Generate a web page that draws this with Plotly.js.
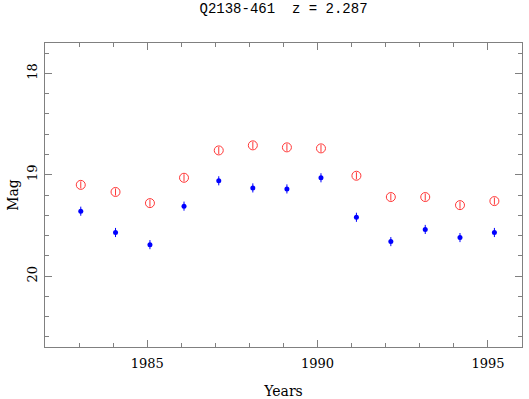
<!DOCTYPE html>
<html>
<head>
<meta charset="utf-8">
<script src="https://cdn.plot.ly/plotly-3.0.1.min.js"></script>
<style>
  html, body { margin: 0; padding: 0; background: #fff; }
  #lc { width: 529px; height: 399px; }
</style>
</head>
<body>
<div id="lc"></div>
<script>
// light curve of Q2138-461, two bands

var epochs = [1983.05, 1984.07, 1985.08, 1986.08, 1987.10, 1988.10, 1989.10,
              1990.10, 1991.14, 1992.15, 1993.16, 1994.18, 1995.19];
var magRed  = [19.10, 19.17, 19.28, 19.03, 18.76, 18.71, 18.73,
               18.74, 19.01, 19.22, 19.22, 19.30, 19.26];
var errRed  = [0.035, 0.035, 0.035, 0.035, 0.035, 0.035, 0.035,
               0.035, 0.035, 0.035, 0.035, 0.035, 0.035];
var magBlue = [19.36, 19.57, 19.69, 19.31, 19.06, 19.13, 19.14,
               19.03, 19.42, 19.66, 19.54, 19.62, 19.57];
var errBlue = [0.045, 0.045, 0.045, 0.045, 0.045, 0.045, 0.045,
               0.045, 0.045, 0.045, 0.045, 0.045, 0.045];

var red = 'rgb(255,55,55)';
var blue = 'rgb(0,0,255)';
var axcol = '#808080';

var traceRed = {
  x: epochs,
  y: magRed,
  mode: 'markers',
  type: 'scatter',
  marker: { symbol: 'circle-open', size: 9, color: red, line: { width: 1, color: red } },
  error_y: { type: 'data', array: errRed, visible: true, color: red, thickness: 1, width: 0 },
  hoverinfo: 'skip'
};
var traceBlue = {
  x: epochs,
  y: magBlue,
  mode: 'markers',
  type: 'scatter',
  marker: { symbol: 'circle', size: 5, color: blue },
  error_y: { type: 'data', array: errBlue, visible: true, color: blue, thickness: 1, width: 0 },
  hoverinfo: 'skip'
};

var layout = {
  width: 529,
  height: 399,
  margin: { l: 45, r: 7, t: 43, b: 52 },
  paper_bgcolor: '#fff',
  plot_bgcolor: '#fff',
  showlegend: false,
  title: {
    text: 'Q2138-461\u00a0\u00a0z\u00a0=\u00a02.287',
    font: { family: 'Liberation Mono, monospace', size: 14, color: '#000' },
    x: 0.536, xanchor: 'center',
    y: 0.98, yanchor: 'middle'
  },
  xaxis: {
    range: [1982, 1996],
    dtick: 5,
    tick0: 1985,
    ticks: 'inside',
    ticklen: 7,
    tickcolor: axcol,
    minor: { dtick: 1, tick0: 1985, ticks: 'inside', ticklen: 4, tickcolor: axcol },
    showline: true,
    linecolor: axcol,
    linewidth: 1,
    mirror: 'ticks',
    showgrid: false,
    zeroline: false,
    ticklabelstandoff: 4,
    tickfont: { family: 'DejaVu Serif, serif', size: 13, color: '#000' },
    title: { text: 'Years', font: { family: 'DejaVu Serif, serif', size: 14, color: '#000' }, standoff: 20 }
  },
  yaxis: {
    range: [20.7, 17.7],
    dtick: 1,
    tick0: 18,
    ticks: 'inside',
    ticklen: 7,
    tickcolor: axcol,
    minor: { dtick: 0.2, tick0: 18, ticks: 'inside', ticklen: 4, tickcolor: axcol },
    tickangle: -90,
    showline: true,
    linecolor: axcol,
    linewidth: 1,
    mirror: 'ticks',
    showgrid: false,
    zeroline: false,
    ticklabelstandoff: 2,
    tickfont: { family: 'DejaVu Serif, serif', size: 13, color: '#000' },
    title: { text: 'Mag', font: { family: 'DejaVu Serif, serif', size: 14, color: '#000' }, standoff: 2 }
  }
};

Plotly.newPlot('lc', [traceRed, traceBlue], layout, { displayModeBar: false, staticPlot: true });
</script>
</body>
</html>
